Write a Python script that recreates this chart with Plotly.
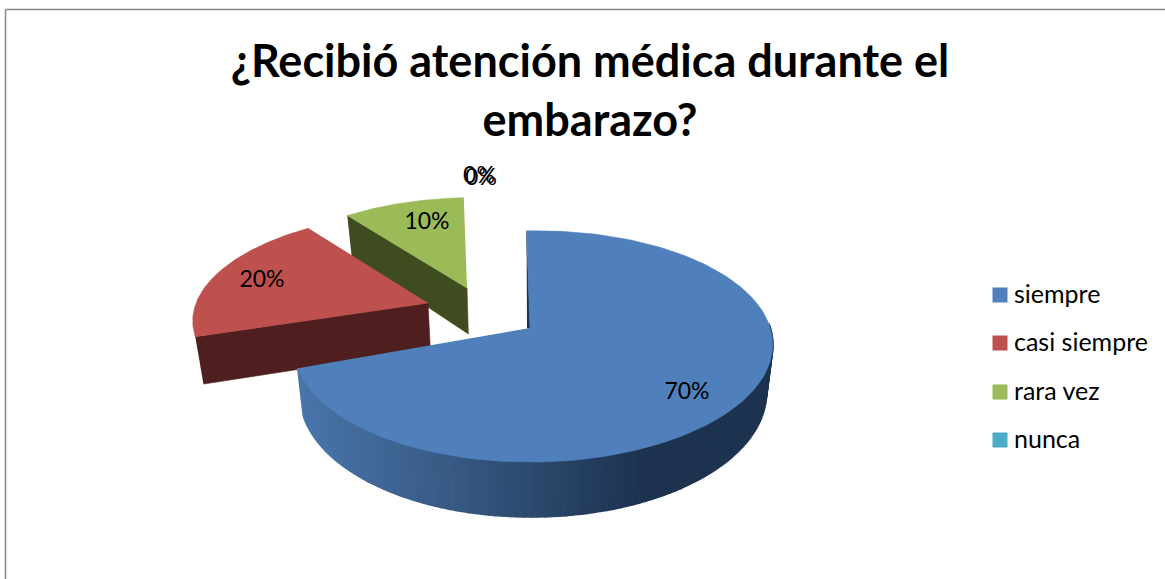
import numpy as np
import plotly.graph_objects as go

# chart data
categories = ["siempre", "casi siempre", "rara vez", "nunca"]
values = [70, 20, 10, 0]
title_lines = ["¿Recibió atención médica durante el", "embarazo?"]

top_colors = ["#4f80bc", "#be504d", "#9bbb59", "#4bacc6"]
wall_colors = [None, "#4e1f1e", "#3f4c20"]

# page-pixel axes, the tilted pie is projected on to them
WIDTH, HEIGHT = 1165, 579
APEX = [(530, 328), (428, 303), (467, 288)]
RADIUS = [1.0, 1.0, 0.95]
RADIUS_Y = [1.0, 0.93, 0.92]
TURN = [0, 2, 0]
LABEL_POS = [(687, 393), (262, 281), (427, 223)]
ZERO_LABEL_POS = [(479, 177), (481, 179)]
LEGEND_X = 1000
LEGEND_TEXT_X = 1014
LEGEND_TEXT_DY = 1.5
LEGEND_Y = [295, 343, 392, 440]
FONT = "Lato"


def project(theta_deg, apex, r=1.0, ry=1.0):
    t = np.radians(theta_deg)
    sx, sy = r * np.sin(t), -ry * np.cos(t)
    den = 1 - 0.16 * sy - 0.012 * sx
    return apex[0] + (236 * sx + 4 * sy) / den, apex[1] + (112.6 * sy - 4 * sx) / den, den


def extrude(x, y, den):
    return 520 + (x - 520) * 0.975, y + 46 / den


def poly(xs, ys, color, width=0.6):
    return go.Scatter(x=list(xs), y=list(ys), mode="lines", fill="toself", fillcolor=color,
                      line=dict(color=color, width=width), hoverinfo="skip", showlegend=False)


def ramp(x):
    stops_x = [296, 450, 650, 780]
    stops = np.array([[74, 118, 172], [56, 90, 132], [29, 50, 79], [30, 52, 80]])
    return "rgb(%d,%d,%d)" % tuple(np.interp(x, stops_x, stops[:, i]) for i in range(3))


fig = go.Figure()

angles = np.cumsum([0] + values) * 3.6
for i in [2, 1, 0]:
    start, end = angles[i] + TURN[i], angles[i + 1] + TURN[i]
    apex, r, ry = APEX[i], RADIUS[i], RADIUS_Y[i]
    arc = np.linspace(start, end, 160)
    ax, ay, aden = project(arc, apex, r, ry)
    if i == 0:
        # rim of the big slice, shaded strip by strip
        rim = np.linspace(90, end, 110)
        rx, ry_, rden = project(rim, apex, r, ry)
        bx, by = extrude(rx, ry_, rden)
        for k in range(len(rim) - 1):
            fig.add_trace(poly([rx[k], rx[k + 1], bx[k + 1], bx[k]],
                               [ry_[k], ry_[k + 1], by[k + 1], by[k]],
                               ramp((rx[k] + rx[k + 1]) / 2), width=2))
        # thin sliver of the inner wall next to the cut
        fig.add_trace(poly([ax[0], apex[0], apex[0] - 3], [ay[0], apex[1], apex[1]], "#1c3350"))
    else:
        # cut face looking at the viewer
        cx, cy, cden = project(start, apex, r, ry)
        bx0, by0 = extrude(cx, cy, cden)
        bx1, by1 = extrude(apex[0], apex[1], 1.0)
        fig.add_trace(poly([cx, apex[0], bx1, bx0], [cy, apex[1], by1, by0], wall_colors[i]))
    fig.add_trace(poly([apex[0], *ax], [apex[1], *ay], top_colors[i]))

# slice labels
label_x = [p[0] for p in LABEL_POS] + [p[0] for p in ZERO_LABEL_POS]
label_y = [p[1] for p in LABEL_POS] + [p[1] for p in ZERO_LABEL_POS]
label_text = ["%d%%" % v for v in values[:3]] + ["%d%%" % values[3]] * 2
fig.add_trace(go.Scatter(x=label_x, y=label_y, text=label_text, mode="text", hoverinfo="skip",
                         showlegend=False, textfont=dict(family=FONT, size=23, color="#000000")))

# key on the right
fig.add_trace(go.Scatter(x=[LEGEND_X] * 4, y=LEGEND_Y, mode="markers", hoverinfo="skip",
                         showlegend=False, marker=dict(symbol="square", size=15, color=top_colors)))
fig.add_trace(go.Scatter(x=[LEGEND_TEXT_X] * 4, y=[v + LEGEND_TEXT_DY for v in LEGEND_Y],
                         text=categories, mode="text",
                         textposition="middle right", hoverinfo="skip", showlegend=False,
                         textfont=dict(family=FONT, size=25, color="#000000")))

fig.update_layout(
    width=WIDTH, height=HEIGHT, autosize=False,
    margin=dict(l=0, r=0, t=0, b=0),
    paper_bgcolor="#ffffff", plot_bgcolor="#ffffff",
    showlegend=False,
    title=dict(text="<br>".join(title_lines), x=590 / WIDTH, xanchor="center",
               y=1 - 77 / HEIGHT, yanchor="top",
               font=dict(family=FONT, size=45, color="#000000", weight="bold")),
    xaxis=dict(range=[0, WIDTH], visible=False, fixedrange=True),
    yaxis=dict(range=[HEIGHT, 0], visible=False, fixedrange=True),
    shapes=[
        dict(type="line", xref="x", yref="y", x0=5.5, y0=9.5, x1=WIDTH, y1=9.5,
             line=dict(color="#868686", width=1.5)),
        dict(type="line", xref="x", yref="y", x0=5.5, y0=9.5, x1=5.5, y1=HEIGHT,
             line=dict(color="#868686", width=1.5)),
    ],
)

fig.write_html("out.html", config=dict(displayModeBar=False),
               post_script="document.body.style.margin='0';")
